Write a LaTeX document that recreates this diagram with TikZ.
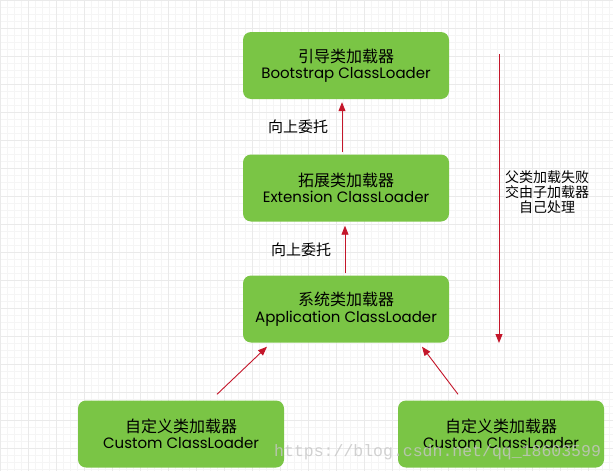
\documentclass[tikz,border=0pt]{standalone}
\usepackage{fontspec}
\setmainfont{Poppins}
\newfontfamily\cjk{Noto Sans CJK SC}
\newfontfamily\wmfont{Liberation Mono}
\usetikzlibrary{arrows.meta}
\definecolor{boxgreen}{HTML}{7AC545}
\definecolor{arrred}{HTML}{C4162A}
\definecolor{gridminor}{HTML}{F5F5F5}
\definecolor{gridmajor}{HTML}{EAEAEA}
\tikzset{
  loader/.style={draw=none, fill=boxgreen, rounded corners=8pt, minimum width=206pt, minimum height=67pt, align=center, inner sep=0pt, font=\fontsize{15}{16.5}\selectfont},
  redarrow/.style={draw=arrred, line width=0.9pt, -{Triangle[length=9pt,width=7pt]}},
  lbl/.style={font=\cjk\fontsize{15}{17}\selectfont, inner sep=0pt},
}
\newcommand{\cn}[1]{{\cjk\fontsize{16}{18}\selectfont #1}}
\begin{document}
\begin{tikzpicture}[x=1pt,y=-1pt]
\useasboundingbox (0,0) rectangle (613,471);
\fill[white] (0,0) rectangle (613,471);
\draw[gridminor, line width=0.5pt, step=7pt] (0,0) grid (613,471);
\draw[gridmajor, line width=0.6pt, step=28pt] (0,0) grid (613,471);

\node[loader] (boot) at (346,65.5) {\cn{引导类加载器}\\Bootstrap ClassLoader};
\node[loader] (ext) at (346,188) {\cn{拓展类加载器}\\Extension ClassLoader};
\node[loader] (app) at (346,309) {\cn{系统类加载器}\\Application ClassLoader};
\node[loader] (c1) at (181,434) {\cn{自定义类加载器}\\Custom ClassLoader};
\node[loader] (c2) at (501,434) {\cn{自定义类加载器}\\Custom ClassLoader};

\draw[redarrow] ([xshift=-4pt,yshift=2pt]ext.north) -- ([xshift=-4pt,yshift=-3pt]boot.south);
\draw[redarrow] ([xshift=-1pt,yshift=2pt]app.north) -- ([xshift=-1pt,yshift=-4pt]ext.south);
\draw[redarrow] ([xshift=36pt,yshift=6pt]c1.north) -- ([xshift=-79pt,yshift=-4pt]app.south);
\draw[redarrow] ([xshift=-43pt,yshift=6pt]c2.north) -- ([xshift=76pt,yshift=-4pt]app.south);

\coordinate (dtop) at (499,54);
\coordinate (dbot) at (499,343);
\draw[redarrow] (dtop) -- (dbot);

\node[lbl] (l1) at (298,127) {向上委托};
\node[lbl] (l2) at (301,250) {向上委托};
\node[font=\cjk\fontsize{14}{15}\selectfont, align=center, inner sep=0pt] (note) at (547,192) {父类加载失败\\交由子加载器\\自己处理};

\node[font=\wmfont\fontsize{16.5}{18}\selectfont, text=gray!45, opacity=0.8, anchor=west, inner sep=0pt] (wm) at (274,452) {https://blog.csdn.net/qq\_18603599};
\end{tikzpicture}
\end{document}
